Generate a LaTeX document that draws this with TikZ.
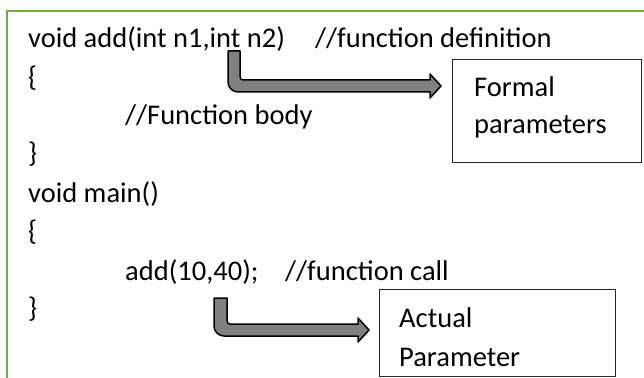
\documentclass[tikz,border=0pt]{standalone}
\usepackage{fontspec}
\setmainfont{Carlito}
\usetikzlibrary{calc}
\definecolor{framegreen}{RGB}{112,173,71}

\begin{document}
\begin{tikzpicture}[x=1pt,y=-1pt,
    code/.style={anchor=base west, inner sep=0pt, font=\fontsize{28.5}{34}\selectfont},
    callout/.style={draw=black!85, line width=0.8pt, anchor=north west, inner sep=0pt},
    fatarrow/.style={draw=black, line width=1.5pt, fill=gray, line join=round},
    frame/.style={draw=framegreen, line width=2.6pt}]
                    \useasboundingbox (0,0) rectangle (644,377);
                    \draw[frame] (7,390) -- (7,11) -- (660,11);

                    \node[code] (l1) at (28,48) {void add(int n1,int n2)};
                    \node[code] (c1) at (315,48) {//function definition};
                    \node[code] (l2) at (28,87) {\{};
                    \node[code] (l3) at (125,124) {//Function body};
                    \node[code] (l4) at (28,162) {\}};
                    \node[code] (l5) at (28,202) {void main()};
                    \node[code] (l6) at (28,240) {\{};
                    \node[code] (l7) at (125,280) {add(10,40);};
                    \node[code] (c7) at (285,280) {//function call};
                    \node[code] (l8) at (28,317) {\}};

                    \node[callout, minimum width=189, minimum height=103] (formal) at (452,59) {};
                    \node[code] (formal1) at (474,97) {Formal};
                    \node[code] (formal2) at (474,133) {parameters};
                    \node[callout, minimum width=236, minimum height=87] (actual) at (379,289) {};
                    \node[code] (actual1) at (399,327) {Actual};
                    \node[code] (actual2) at (399,366) {Parameter};

                    \coordinate (p1) at (234,51);
                    \coordinate (t1) at (441,86);
                    \coordinate (p2) at (220.5,298);
                    \coordinate (t2) at (369,330);

                    \draw[fatarrow] ($(p1)+(-6,0)$) [rounded corners=10] -- ($(p1|-t1)+(-6,6)$) [sharp corners] -- ($(t1)+(-11,6)$) -- ($(t1)+(-11,12)$) -- (t1) -- ($(t1)+(-11,-12)$) -- ($(t1)+(-11,-6)$) [rounded corners=3] -- ($(p1|-t1)+(6,-6)$) [sharp corners] -- ($(p1)+(6,0)$) -- cycle;
                    \draw[fatarrow] ($(p2)+(-6.5,0)$) [rounded corners=10] -- ($(p2|-t2)+(-6.5,6)$) [sharp corners] -- ($(t2)+(-11,6)$) -- ($(t2)+(-11,12)$) -- (t2) -- ($(t2)+(-11,-12)$) -- ($(t2)+(-11,-6)$) [rounded corners=3] -- ($(p2|-t2)+(6.5,-6)$) [sharp corners] -- ($(p2)+(6.5,0)$) -- cycle;
                \end{tikzpicture}
\end{document}
